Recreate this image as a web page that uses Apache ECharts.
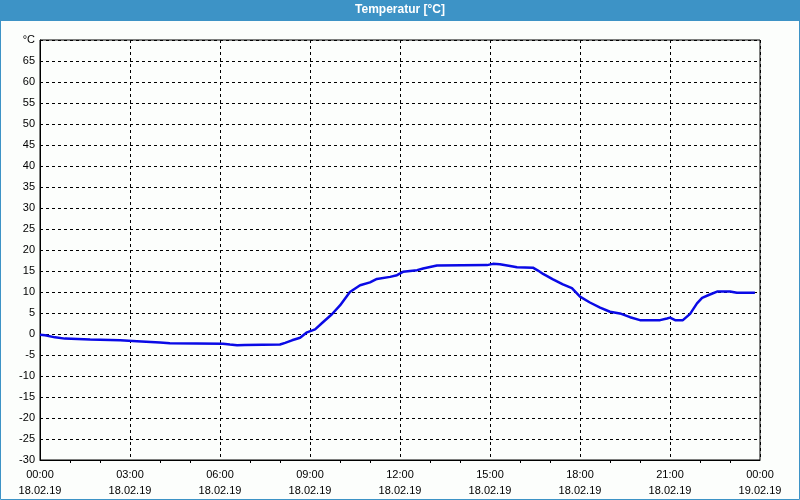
<!DOCTYPE html>
<html>
<head>
<meta charset="utf-8">
<script src="https://cdn.jsdelivr.net/npm/echarts@6/dist/echarts.min.js"></script>
<style>
html,body{margin:0;padding:0;background:#fcfefc;}
#c{width:800px;height:500px;}
</style>
</head>
<body>
<div id="c"></div>
<script>
// Time in hours since 18.02.19 00:00
var hours = [0.00,0.17,0.5,0.83,1.67,2.67,3.23,4.0,4.33,6.1,6.33,6.57,6.83,8.0,8.17,8.4,8.67,8.9,9.17,9.43,9.73,10.0,10.33,10.67,11.0,11.23,11.67,11.9,12.1,12.57,12.77,13.23,14.9,15.1,15.33,15.67,15.9,16.43,16.6,16.77,17.1,17.43,17.73,18.0,18.33,18.67,19.0,19.33,19.67,20.0,20.67,20.9,21.0,21.17,21.43,21.67,21.9,22.07,22.33,22.57,23.0,23.23,23.83];
var temps = [-0.2,-0.3,-0.8,-1.1,-1.3,-1.5,-1.7,-2.0,-2.2,-2.3,-2.5,-2.7,-2.6,-2.5,-2.1,-1.5,-0.9,0.4,1.1,2.8,4.7,6.8,10.0,11.6,12.3,13.1,13.6,14.0,14.8,15.2,15.6,16.3,16.4,16.7,16.6,16.2,15.9,15.8,15.1,14.3,13.0,11.8,10.9,8.9,7.5,6.3,5.3,4.9,4.0,3.3,3.3,3.7,3.9,3.3,3.3,4.8,7.3,8.6,9.4,10.1,10.1,9.8,9.8];
var xTickLabels = {0:'00:00\n18.02.19',3:'03:00\n18.02.19',6:'06:00\n18.02.19',9:'09:00\n18.02.19',12:'12:00\n18.02.19',15:'15:00\n18.02.19',18:'18:00\n18.02.19',21:'21:00\n18.02.19',24:'00:00\n19.02.19'};
var titleText = 'Temperatur [°C]';
var unitLabel = '°C';

var chart = echarts.init(document.getElementById('c'));
var font = 'Liberation Sans';
chart.setOption({
  animation: false,
  backgroundColor: '#fcfefc',
  graphic: [
    {type:'rect', shape:{x:0.5,y:0.5,width:799,height:499}, style:{fill:'none',stroke:'#3d93c6',lineWidth:1}, z:-1},
    {type:'rect', shape:{x:0,y:0,width:800,height:21}, style:{fill:'#3d93c6'}},
    {type:'text', left:'center', top:4, style:{text:titleText, fill:'#ffffff', font:'bold 12px ' + font}}
  ],
  grid: {left:40, right:40, top:40, bottom:40, show:true, borderColor:'#000', borderWidth:1, backgroundColor:'transparent'},
  xAxis: {
    type:'value', min:0, max:24, interval:3,
    axisLine:{show:true, onZero:false, lineStyle:{color:'#000', width:1}},
    axisTick:{show:false},
    minorTick:{show:true, splitNumber:3, length:3, lineStyle:{color:'#000'}},
    splitLine:{show:true, lineStyle:{color:'#000', type:[3,3], width:1}},
    axisLabel:{color:'#000', fontFamily:font, fontSize:11, lineHeight:16, margin:7,
      formatter:function(v){return xTickLabels[v] || '';}}
  },
  yAxis: {
    type:'value', min:-30, max:70, interval:5,
    axisLine:{show:true, onZero:false, lineStyle:{color:'#000', width:1}},
    axisTick:{show:false},
    splitLine:{show:true, lineStyle:{color:'#000', type:[3,3], width:1}},
    axisLabel:{color:'#000', fontFamily:font, fontSize:11, margin:5,
      formatter:function(v){return v===70 ? unitLabel : String(v);}}
  },
  series: [{
    type:'line', data: hours.map(function(h,i){return [h,temps[i]];}),
    showSymbol:false, smooth:false,
    lineStyle:{color:'#0a0ae6', width:2.5}
  }]
});
</script>
</body>
</html>
